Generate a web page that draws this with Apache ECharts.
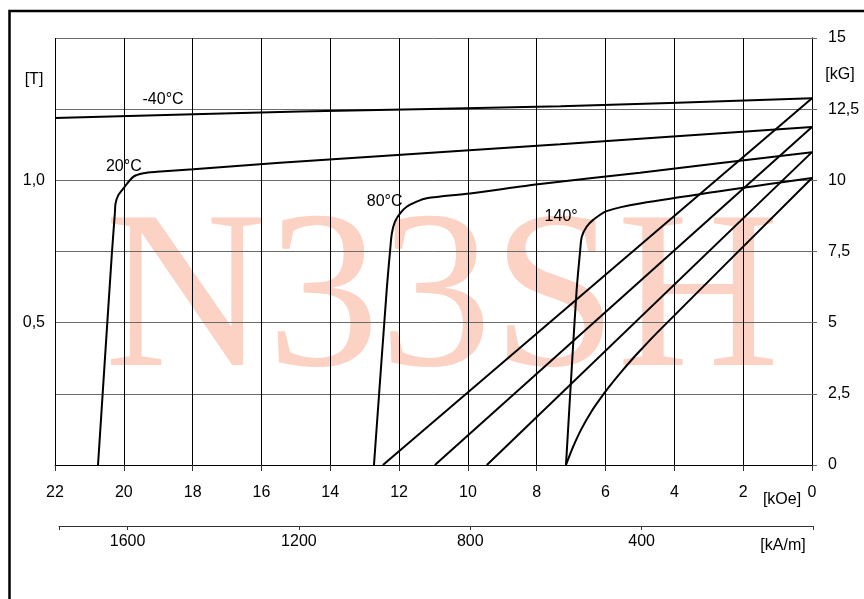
<!DOCTYPE html>
<html>
<head>
<meta charset="utf-8">
<script src="https://cdn.jsdelivr.net/npm/echarts@6/dist/echarts.min.js"></script>
<style>
  html, body { margin: 0; padding: 0; background: #fff; }
  #main { width: 864px; height: 599px; }
</style>
</head>
<body>
<div id="main"></div>
<script>
// x = H in kOe, y = B / J in kG
var curveM40J = [[0, 12.88], [7.3, 12.6], [14.9, 12.42], [22, 12.19]];
var curveM40B = [[0, 12.88], [12.47, 0]];
var curve20J = [[0, 11.87], [7.32, 11.27], [15.46, 10.62], [17.98, 10.39], [19.04, 10.3], [19.43, 10.25],
    [19.72, 10.13], [20.01, 9.72], [20.16, 9.48], [20.24, 9.19], [20.26, 8.85], [20.35, 7.38], [20.75, 0]];
var curve20B = [[0, 11.87], [10.96, 0]];
var curve80J = [[0, 10.99], [5.0, 10.27], [7.9, 9.87], [9.94, 9.54], [11.2, 9.37], [11.49, 9.25],
    [11.78, 9.07], [11.97, 8.84], [12.12, 8.55], [12.21, 8.14], [12.26, 7.55], [12.36, 6.15], [12.73, 0]];
var curve80B = [[0, 10.99], [9.45, 0]];
var curve140J = [[0, 10.08], [5.0, 9.19], [5.97, 8.92], [6.36, 8.61], [6.55, 8.37], [6.69, 8.02],
    [6.74, 7.5], [6.84, 6.15], [6.98, 3.45], [7.15, 0]];
var curve140B = [[0, 10.08], [4.5, 4.65], [4.9, 4.14], [5.2, 3.75], [5.5, 3.33], [5.8, 2.89],
    [6.1, 2.42], [6.4, 1.9], [6.7, 1.27], [6.95, 0.62], [7.15, 0]];

var tempLabels = [
    { name: '-40°C', value: [18.86, 12.82] },
    { name: '20°C', value: [20.0, 10.5] },
    { name: '80°C', value: [12.42, 9.27] },
    { name: '140°', value: [7.29, 8.71] }
];

var kAmTicks = [0, 400, 800, 1200, 1600, 1760];
var kAmLabels = [400, 800, 1200, 1600];

var font = 'Liberation Sans, Arial, sans-serif';
var gridGray = '#6a6a6a';

function curve(data, smooth) {
    return {
        type: 'line',
        xAxisIndex: 0,
        yAxisIndex: 1,
        data: data,
        showSymbol: false,
        smooth: smooth,
        lineStyle: { color: '#000', width: 2 },
        z: 5
    };
}

var myChart = echarts.init(document.getElementById('main'));

var option = {
    backgroundColor: '#fff',
    animation: false,
    textStyle: { fontFamily: font },
    graphic: [
        {
            type: 'rect',
            z: -20,
            shape: { x: 9.5, y: 11, width: 900, height: 700 },
            style: { fill: 'none', stroke: '#000', lineWidth: 2.5 }
        },
        {
            type: 'text',
            z: -10,
            x: 442,
            y: 306,
            style: {
                text: 'N33SH',
                font: '225px "Liberation Serif", "Times New Roman", serif',
                fill: '#fbd2c3',
                align: 'center',
                verticalAlign: 'middle'
            }
        },
        { type: 'text', x: 34, y: 80, style: { text: '[T]', font: '16px ' + font, fill: '#000', align: 'center', verticalAlign: 'middle' } },
        { type: 'text', x: 840, y: 75, style: { text: '[kG]', font: '16px ' + font, fill: '#000', align: 'center', verticalAlign: 'middle' } },
        { type: 'text', x: 782, y: 500, style: { text: '[kOe]', font: '16px ' + font, fill: '#000', align: 'center', verticalAlign: 'middle' } },
        { type: 'text', x: 783, y: 546, style: { text: '[kA/m]', font: '16px ' + font, fill: '#000', align: 'center', verticalAlign: 'middle' } }
    ],
    grid: [
        { left: 55, right: 52, top: 38, bottom: 134 },
        { left: 59, right: 51, top: 525, height: 1 }
    ],
    xAxis: [
        {
            type: 'value',
            gridIndex: 0,
            min: 0,
            max: 22,
            interval: 2,
            inverse: true,
            axisLine: { lineStyle: { color: '#000', width: 1 } },
            axisTick: { show: true, length: 6, lineStyle: { color: '#333' } },
            axisLabel: { fontSize: 16, color: '#000', margin: 20, fontFamily: font },
            splitLine: { show: true, lineStyle: { color: '#000', width: 1 } }
        },
        {
            type: 'value',
            gridIndex: 1,
            min: 0,
            max: 1760,
            inverse: true,
            position: 'bottom',
            axisLine: { lineStyle: { color: '#333', width: 1 } },
            axisTick: { show: true, length: 4, customValues: kAmTicks, lineStyle: { color: '#333' } },
            axisLabel: {
                fontSize: 16, color: '#000', margin: 8, fontFamily: font, customValues: kAmLabels,
                formatter: function (v) { return String(v); }
            },
            splitLine: { show: false }
        }
    ],
    yAxis: [
        {
            type: 'value',
            gridIndex: 0,
            position: 'left',
            min: 0,
            max: 1.5,
            interval: 0.5,
            axisLine: { show: true, lineStyle: { color: gridGray } },
            axisTick: { show: false },
            axisLabel: {
                fontSize: 16, color: '#000', margin: 10, fontFamily: font,
                formatter: function (v) {
                    if (v === 0 || v === 1.5) return '';
                    return v.toFixed(1).replace('.', ',');
                }
            },
            splitLine: { show: false }
        },
        {
            type: 'value',
            gridIndex: 0,
            position: 'right',
            min: 0,
            max: 15,
            interval: 2.5,
            axisLine: { show: true, lineStyle: { color: '#000' } },
            axisTick: { show: true, length: 5, lineStyle: { color: gridGray } },
            axisLabel: {
                fontSize: 16, color: '#000', margin: 16, fontFamily: font,
                formatter: function (v) { return String(v).replace('.', ','); }
            },
            splitLine: { show: true, lineStyle: { color: gridGray, width: 1 } }
        },
        {
            type: 'value',
            gridIndex: 1,
            show: false,
            min: 0,
            max: 1
        }
    ],
    series: [
        curve(curveM40J, 0.3),
        curve(curveM40B, false),
        curve(curve20J, 0.3),
        curve(curve20B, false),
        curve(curve80J, 0.3),
        curve(curve80B, false),
        curve(curve140J, 0.3),
        curve(curve140B, 0.3),
        {
            type: 'scatter',
            xAxisIndex: 0,
            yAxisIndex: 1,
            symbolSize: 0,
            itemStyle: { opacity: 1, color: '#000' },
            data: tempLabels,
            label: {
                show: true,
                position: 'inside',
                formatter: '{b}',
                fontSize: 16,
                color: '#000',
                opacity: 1,
                fontFamily: font
            },
            z: 6
        }
    ]
};

myChart.setOption(option);
</script>
</body>
</html>
